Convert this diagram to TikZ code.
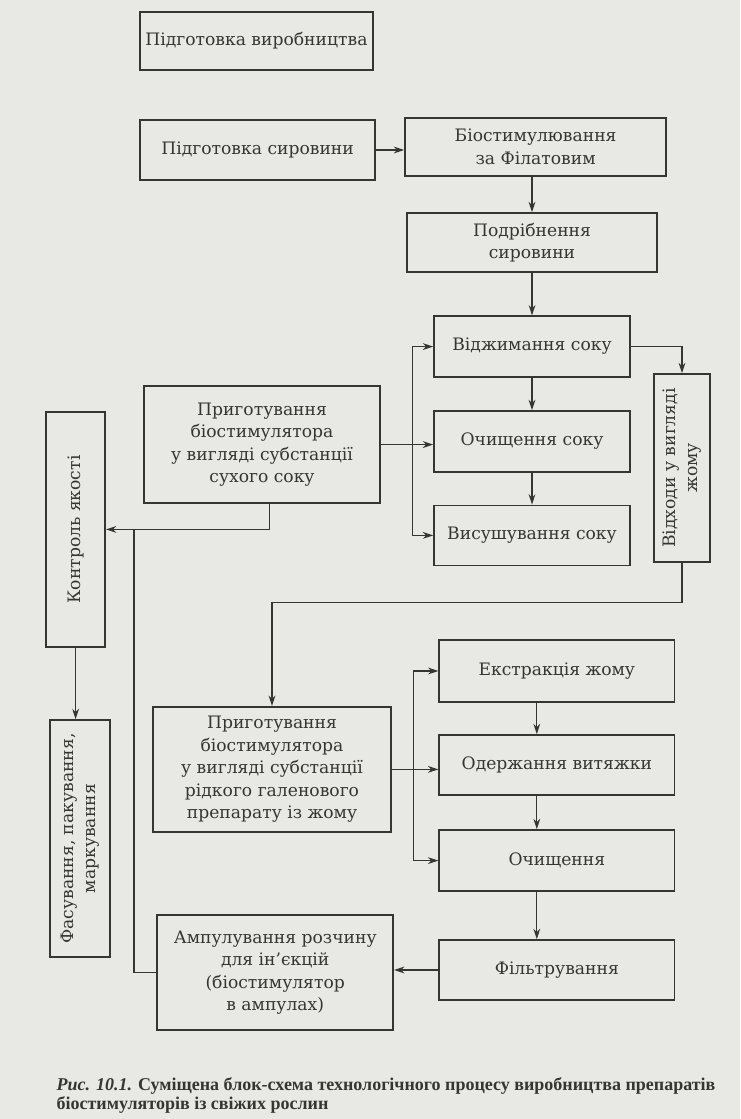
\documentclass[tikz,border=0pt]{standalone}
\usepackage{fontspec}
\setmainfont{DejaVu Serif}
\newfontfamily\capfont{Liberation Serif}
\usetikzlibrary{arrows.meta, calc}
\definecolor{paper}{HTML}{E8E8E4}
\definecolor{ink}{HTML}{353533}

\begin{document}
\begin{tikzpicture}[>={Stealth[length=2.6mm, width=1.7mm]}, line width=0.9pt,
  procbox/.style={draw=ink, line width=1.2pt, align=center, inner sep=2pt, text=ink,
    font=\fontsize{12.2}{16}\selectfont},
  sidebox/.style={procbox, rotate=90},
  link/.style={draw=ink, line width=0.9pt}]

% Background
\fill[paper] (0,0) rectangle (18.5,27.975);
\useasboundingbox (0,0) rectangle (18.5,27.975);

% Preparation
\node[procbox, minimum width=5.83cm, minimum height=1.45cm] (prodprep) at (6.41,26.95) {Підготовка виробництва};
\node[procbox, minimum width=5.88cm, minimum height=1.5cm] (rawprep) at (6.44,24.225) {Підготовка сировини};
\node[procbox, minimum width=6.53cm, minimum height=1.45cm] (filatov) at (13.39,24.3) {Біостимулювання\\за Філатовим};
\node[procbox, minimum width=6.25cm, minimum height=1.48cm] (grind) at (13.3,21.91) {Подрібнення\\сировини};

% Juice branch
\node[procbox, minimum width=4.9cm, minimum height=1.52cm] (press) at (13.3,19.31) {Віджимання соку};
\node[procbox, minimum width=4.9cm, minimum height=1.52cm] (clean) at (13.3,16.94) {Очищення соку};
\node[procbox, minimum width=4.9cm, minimum height=1.5cm] (dry) at (13.3,14.59) {Висушування соку};
\node[sidebox, minimum width=4.7cm, minimum height=1.4cm] (waste) at (17.05,16.275) {Відходи у вигляді\\жому};
\node[procbox, minimum width=5.9cm, minimum height=2.93cm] (drysub) at (6.55,16.86) {Приготування\\біостимулятора\\у вигляді субстанції\\сухого соку};

% Control and packing
\node[sidebox, minimum width=5.88cm, minimum height=1.48cm] (qc) at (1.89,14.74) {Контроль якості};
\node[sidebox, minimum width=5.93cm, minimum height=1.5cm] (pack) at (2.0,7.01) {Фасування, пакування,\\маркування};

% Pulp branch
\node[procbox, minimum width=5.95cm, minimum height=3.13cm] (liqsub) at (6.8,8.74) {Приготування\\біостимулятора\\у вигляді субстанції\\рідкого галенового\\препарату із жому};
\node[procbox, minimum width=5.88cm, minimum height=1.55cm] (extr) at (13.92,11.2) {Екстракція жому};
\node[procbox, minimum width=5.88cm, minimum height=1.5cm] (extract) at (13.92,8.85) {Одержання витяжки};
\node[procbox, minimum width=5.88cm, minimum height=1.53cm] (purif) at (13.92,6.46) {Очищення};
\node[procbox, minimum width=5.88cm, minimum height=1.5cm] (filt) at (13.92,3.725) {Фільтрування};
\node[procbox, minimum width=5.9cm, minimum height=2.88cm] (amp) at (6.88,3.66) {Ампулування розчину\\для ін’єкцій\\(біостимулятор\\в ампулах)};

% Caption
\node[anchor=north west, align=left, text=ink, inner sep=0pt,
  font=\capfont\bfseries\fontsize{12.8}{13.4}\selectfont] (caption) at (1.4,1.05)
  {\itshape Рис. 10.1.\upshape{} Суміщена блок-схема технологічного процесу виробництва препаратів\\біостимуляторів із свіжих рослин};

% Bus points
\coordinate (dbus) at ($(drysub.east)+(0.8,0)$);
\coordinate (lbus) at ($(liqsub.east)+(0.55,0)$);
\coordinate (qcbus) at ($(qc.south)+(0.7,0)$);

% Main flow
\draw[link, ->] (rawprep.east) -- (rawprep.east -| filatov.west);
\draw[link, ->] (filatov.south -| grind.north) -- (grind.north);
\draw[link, ->] (grind.south -| press.north) -- (press.north);
\draw[link, ->] (press.south) -- (clean.north);
\draw[link, ->] (clean.south) -- (dry.north);
\draw[link, ->] (press.east) -| (waste.east);

% Dry juice substance
\draw[link, ->] (drysub.east) -- (drysub.east -| clean.west);
\draw[link, ->] (dbus) |- (press.west);
\draw[link, ->] (dbus) |- (dry.west);
\draw[link, ->] ([xshift=0.18cm]drysub.south) |- (qc.south);
\draw[link] (amp.west) -| (qcbus);
\draw[link, ->] (qc.west) -- (qc.west |- pack.east);

% Pulp
\draw[link, ->] (waste.west) -- ++(0,-1.0) -| (liqsub.north);
\draw[link, ->] (liqsub.east) -- (liqsub.east -| extract.west);
\draw[link, ->] (lbus) |- (extr.west);
\draw[link, ->] (lbus) |- (purif.west);
\draw[link, ->] ([xshift=-0.5cm]extr.south) -- ([xshift=-0.5cm]extract.north);
\draw[link, ->] ([xshift=-0.5cm]extract.south) -- ([xshift=-0.5cm]purif.north);
\draw[link, ->] ([xshift=-0.5cm]purif.south) -- ([xshift=-0.5cm]filt.north);
\draw[link, ->] (filt.west) -- (filt.west -| amp.east);

\end{tikzpicture}
\end{document}
